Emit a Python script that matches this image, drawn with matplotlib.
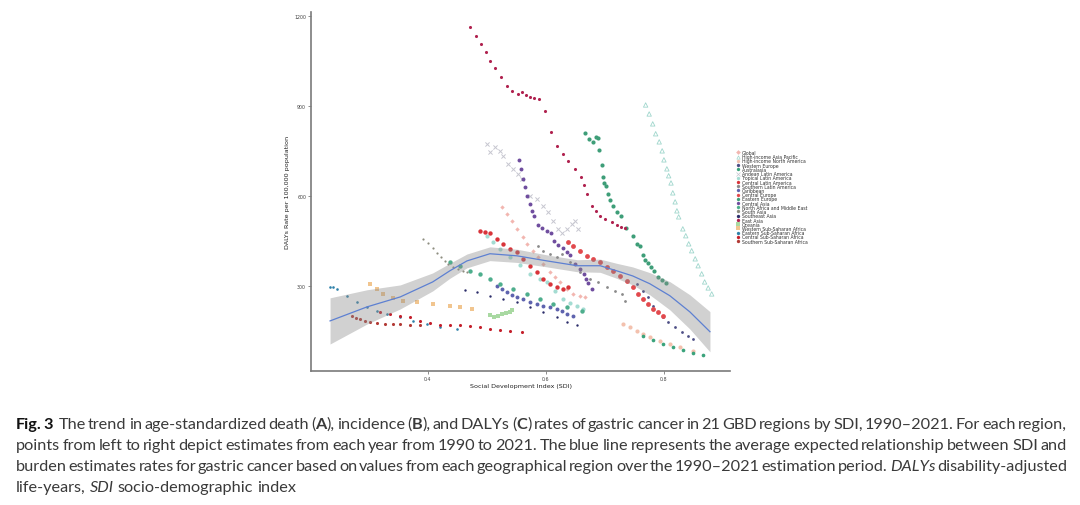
import matplotlib
matplotlib.use("Agg")
import matplotlib.pyplot as plt
from matplotlib.lines import Line2D

# ---------------- data (SDI, DALYs rate per 100,000) ----------------
east_asia_x = [0.471,0.481,0.490,0.498,0.505,0.514,0.524,0.534,0.542,0.553,0.559,0.566,0.573,0.580,0.588,0.598,
               0.608,0.619,0.629,0.637,0.649,0.659,0.664,0.669,0.678,0.685,0.692,0.700,0.712,0.720,0.727,0.734]
east_asia_y = [1163,1133,1107,1080,1050,1027,997,967,950,940,947,937,930,927,923,883,
               813,767,740,717,690,663,637,607,567,550,533,523,513,503,497,493]

hi_asia_pacific_x = [0.769,0.775,0.781,0.786,0.792,0.797,0.800,0.805,0.808,0.812,0.815,0.819,0.822,0.825,0.832,0.837,
                     0.842,0.847,0.853,0.858,0.864,0.869,0.875,0.881]
hi_asia_pacific_y = [903,873,840,807,780,750,720,690,667,643,610,580,550,530,490,467,440,417,390,367,340,313,293,273]

eastern_europe_x = [0.666,0.673,0.680,0.685,0.688,0.690,0.695,0.697,0.698,0.702,0.705,0.708,0.714,0.720,0.727,0.736,
                    0.747,0.754,0.759,0.764,0.768,0.773,0.778,0.783,0.790,0.797,0.803]
eastern_europe_y = [810,790,780,797,793,753,703,663,643,633,607,587,567,547,533,493,467,440,433,403,387,377,363,350,330,320,310]

central_asia_x = [0.554,0.558,0.561,0.564,0.568,0.573,0.576,0.580,0.586,0.593,0.602,0.608,0.614,0.620,0.629,0.636,
                  0.641,0.649,0.658,0.664,0.668,0.671,0.678]
central_asia_y = [720,690,657,630,600,573,550,533,503,493,483,477,450,437,427,413,403,373,357,340,323,310,290]

andean_x = [0.500,0.505,0.514,0.522,0.527,0.536,0.544,0.553,0.559,0.573,0.585,0.595,0.603,0.612,0.620,0.627,0.636,0.644,0.649,0.654]
andean_y = [773,747,763,750,733,707,690,673,657,600,590,567,547,517,490,477,490,507,517,490]

global_x = [0.525,0.534,0.542,0.551,0.561,0.568,0.578,0.586,0.595,0.607,0.615,0.624,0.636,0.646,0.658,0.666]
global_y = [563,540,517,490,463,440,417,397,373,347,330,313,290,273,267,263]

central_latam_x = [0.488,0.497,0.505,0.517,0.527,0.539,0.551,0.561,0.573,0.585,0.595,0.607,0.619,0.629,0.637]
central_latam_y = [483,480,477,457,440,423,413,390,367,347,323,307,297,290,297]

central_europe_x = [0.637,0.646,0.658,0.669,0.680,0.692,0.703,0.714,0.725,0.737,0.747,0.756,0.764,0.773,0.781,0.790,0.798]
central_europe_y = [447,433,417,400,390,380,363,350,333,317,297,273,257,240,223,213,200]

western_europe_x = [0.754,0.764,0.773,0.781,0.790,0.798,0.807,0.819,0.831,0.841,0.849]
western_europe_y = [307,283,263,233,213,197,180,163,147,133,123]

southern_latam_x = [0.586,0.595,0.607,0.619,0.627,0.641,0.658,0.675,0.688,0.703,0.717,0.729,0.734]
southern_latam_y = [433,417,407,397,407,380,347,323,313,297,283,273,250]

tropical_latam_x = [0.500,0.510,0.522,0.539,0.556,0.573,0.590,0.602,0.615,0.629,0.641,0.653,0.663]
tropical_latam_y = [467,447,423,397,370,340,323,313,283,257,243,233,223]

name_x = [0.437,0.454,0.471,0.488,0.505,0.522,0.544,0.568,0.590,0.612,0.636,0.661]
name_y = [380,367,350,340,323,307,290,273,257,240,230,217]

caribbean_x = [0.517,0.525,0.534,0.542,0.551,0.561,0.573,0.585,0.595,0.607,0.619,0.627,0.636,0.646]
caribbean_y = [300,290,280,270,263,257,247,240,233,230,223,217,207,200]

se_asia_x = [0.463,0.483,0.505,0.527,0.551,0.573,0.595,0.619,0.636,0.653]
se_asia_y = [287,280,267,257,247,230,213,197,180,170]

oceania_x = [0.505,0.512,0.519,0.525,0.532,0.539,0.542]
oceania_y = [203,197,200,207,210,213,220]

south_asia_x = [0.392,0.400,0.408,0.415,0.422,0.429,0.434,0.442,0.451,0.459,0.466]
south_asia_y = [457,443,427,410,397,383,373,363,357,350,347]

w_ssa_x = [0.302,0.314,0.324,0.341,0.358,0.381,0.408,0.437,0.454,0.475]
w_ssa_y = [307,290,273,260,250,247,240,233,230,223]

e_ssa_x = [0.234,0.239,0.246,0.263,0.280,0.297,0.314,0.331,0.353,0.375,0.398,0.420,0.449]
e_ssa_y = [297,297,290,267,247,230,217,207,197,183,173,163,157]

c_ssa_x = [0.319,0.336,0.353,0.369,0.386,0.403,0.420,0.437,0.454,0.471,0.488,0.505,0.522,0.539,0.559]
c_ssa_y = [213,207,200,197,183,177,170,170,170,167,163,157,153,150,147]

s_ssa_x = [0.271,0.278,0.285,0.293,0.302,0.314,0.327,0.341,0.353,0.369,0.386]
s_ssa_y = [200,193,190,183,180,177,173,173,173,170,170]

hi_na_x = [0.731,0.742,0.754,0.764,0.776,0.793,0.810,0.827,0.849]
hi_na_y = [173,163,150,140,130,117,107,97,83]

australasia_x = [0.764,0.781,0.798,0.815,0.832,0.849,0.866]
australasia_y = [133,120,107,97,87,77,70]

# smoother (expected relationship) and its confidence band
fit_x  = [0.234,0.297,0.353,0.408,0.437,0.466,0.505,0.551,0.602,0.653,0.692,0.720,0.747,0.776,0.810,0.844,0.878]
fit_y  = [183,230,263,313,350,383,407,400,383,367,367,350,333,307,267,213,147]
fit_lo = [106,173,223,283,325,360,384,378,363,347,345,325,303,270,220,156,80]
fit_hi = [260,287,303,343,375,406,430,422,403,387,389,375,363,344,314,270,214]

x_ticks = [0.4, 0.6, 0.8]
y_ticks = [300, 600, 900, 1200]

regions = ["Global", "High-income Asia Pacific", "High-income North America", "Western Europe", "Australasia",
           "Andean Latin America", "Tropical Latin America", "Central Latin America", "Southern Latin America",
           "Caribbean", "Central Europe", "Eastern Europe", "Central Asia", "North Africa and Middle East",
           "South Asia", "Southeast Asia", "East Asia", "Oceania", "Western Sub-Saharan Africa",
           "Eastern Sub-Saharan Africa", "Central Sub-Saharan Africa", "Southern Sub-Saharan Africa"]

series = {
    "Global": (global_x, global_y),
    "High-income Asia Pacific": (hi_asia_pacific_x, hi_asia_pacific_y),
    "High-income North America": (hi_na_x, hi_na_y),
    "Western Europe": (western_europe_x, western_europe_y),
    "Australasia": (australasia_x, australasia_y),
    "Andean Latin America": (andean_x, andean_y),
    "Tropical Latin America": (tropical_latam_x, tropical_latam_y),
    "Central Latin America": (central_latam_x, central_latam_y),
    "Southern Latin America": (southern_latam_x, southern_latam_y),
    "Caribbean": (caribbean_x, caribbean_y),
    "Central Europe": (central_europe_x, central_europe_y),
    "Eastern Europe": (eastern_europe_x, eastern_europe_y),
    "Central Asia": (central_asia_x, central_asia_y),
    "North Africa and Middle East": (name_x, name_y),
    "South Asia": (south_asia_x, south_asia_y),
    "Southeast Asia": (se_asia_x, se_asia_y),
    "East Asia": (east_asia_x, east_asia_y),
    "Oceania": (oceania_x, oceania_y),
    "Western Sub-Saharan Africa": (w_ssa_x, w_ssa_y),
    "Eastern Sub-Saharan Africa": (e_ssa_x, e_ssa_y),
    "Central Sub-Saharan Africa": (c_ssa_x, c_ssa_y),
    "Southern Sub-Saharan Africa": (s_ssa_x, s_ssa_y),
}

# styles: (color, marker, size, hollow)
styles = {
    "Global": ("#F2B6B0", "D", 5, False),
    "High-income Asia Pacific": ("#9FD6CC", "^", 10, True),
    "High-income North America": ("#F3C1AE", "o", 9, False),
    "Western Europe": ("#4E4F86", "o", 4, False),
    "Australasia": ("#3AA37B", "o", 7, False),
    "Andean Latin America": ("#C6C6D0", "x", 9, False),
    "Tropical Latin America": ("#A4DCD2", "o", 9, False),
    "Central Latin America": ("#D8343A", "o", 10, False),
    "Southern Latin America": ("#8A8A8A", "o", 4, False),
    "Caribbean": ("#5E63AE", "o", 8, False),
    "Central Europe": ("#E2494D", "o", 12, False),
    "Eastern Europe": ("#3E9E78", "o", 9, False),
    "Central Asia": ("#6F4D9E", "o", 8, False),
    "North Africa and Middle East": ("#4EAE8D", "o", 10, False),
    "South Asia": ("#8E8E80", "o", 2.5, False),
    "Southeast Asia": ("#2B2D6A", "o", 3, False),
    "East Asia": ("#B0224F", "o", 5, False),
    "Oceania": ("#A9D9A2", "s", 6, False),
    "Western Sub-Saharan Africa": ("#F1C58F", "s", 8, False),
    "Eastern Sub-Saharan Africa": ("#2F81A9", "o", 3.5, False),
    "Central Sub-Saharan Africa": ("#C4202C", "o", 5, False),
    "Southern Sub-Saharan Africa": ("#B23A35", "o", 5, False),
}

# ---------------- figure ----------------
W, H = 1080, 506
fig = plt.figure(figsize=(W / 100, H / 100), dpi=100)
fig.patch.set_facecolor("white")

ax = fig.add_axes([311 / W, 1 - 372 / H, (730 - 311) / W, (372 - 13) / H])
ax.set_xlim(0.2017, 0.912)
ax.set_ylim(16, 1213)

handles = []
for name in regions:
    xs, ys = series[name]
    col, mk, sz, hollow = styles[name]
    if hollow:
        ax.scatter(xs, ys, s=sz, marker=mk, facecolors="none", edgecolors=col, linewidths=0.6, zorder=2)
        h = Line2D([], [], linestyle="none", marker=mk, markersize=2.4, markerfacecolor="none",
                   markeredgecolor=col, markeredgewidth=0.5)
    elif mk == "x":
        ax.scatter(xs, ys, s=sz, marker=mk, color=col, linewidths=0.7, zorder=2)
        h = Line2D([], [], linestyle="none", marker=mk, markersize=2.2, color=col, markeredgewidth=0.5)
    else:
        ax.scatter(xs, ys, s=sz, marker=mk, color=col, linewidths=0, zorder=2)
        h = Line2D([], [], linestyle="none", marker=mk, markersize=2.4, markerfacecolor=col,
                   markeredgecolor=col, markeredgewidth=0)
    handles.append(h)

ax.fill_between(fit_x, fit_lo, fit_hi, color="#8C8C8C", alpha=0.4, linewidth=0, zorder=3)
ax.plot(fit_x, fit_y, color="#5D80D2", linewidth=0.9, zorder=4)

for side in ["top", "right"]:
    ax.spines[side].set_visible(False)
for side in ["left", "bottom"]:
    ax.spines[side].set_color("#7A7A7A")
    ax.spines[side].set_linewidth(1.2)
ax.set_xticks(x_ticks)
ax.set_yticks(y_ticks)
ax.set_xticklabels([f"{t:.1f}" for t in x_ticks])
ax.set_yticklabels([str(t) for t in y_ticks])
ax.tick_params(axis="both", length=2, width=0.6, color="#7A7A7A", labelsize=3.4, labelcolor="#444444", pad=1.5)
ax.set_xlabel("Social Development Index (SDI)", fontsize=4.6, color="#222222", labelpad=1.5)
ax.set_ylabel("DALYs Rate per 100,000 population", fontsize=4.6, color="#222222", labelpad=3)

fig.legend(handles, regions, loc="upper left", bbox_to_anchor=(736 / W, 1 - 151 / H),
           frameon=False, fontsize=3.3, labelspacing=-0.17, handlelength=0.7, handletextpad=0.5,
           borderpad=0, borderaxespad=0, labelcolor="#333333")

# ---------------- caption (justified) ----------------
FAM = ["Lato", "DejaVu Sans"]
FS = 11.7

def words(s, weight="normal", style="normal"):
    return [[(w, weight, style)] for w in s.split()]

line1 = [[("Fig.", "bold", "normal")], [("3", "bold", "normal")]] + \
    words("The trend in age-standardized death") + \
    [[("(", "normal", "normal"), ("A", "bold", "normal"), ("),", "normal", "normal")]] + \
    words("incidence") + \
    [[("(", "normal", "normal"), ("B", "bold", "normal"), ("),", "normal", "normal")]] + \
    words("and DALYs") + \
    [[("(", "normal", "normal"), ("C", "bold", "normal"), (")", "normal", "normal")]] + \
    words("rates of gastric cancer in 21 GBD regions by SDI, 1990–2021. For each region,")
line2 = words("points from left to right depict estimates from each year from 1990 to 2021. The blue line represents the average expected relationship between SDI and")
line3 = words("burden estimates rates for gastric cancer based on values from each geographical region over the 1990–2021 estimation period.") + \
    [[("DALYs", "normal", "italic")]] + words("disability-adjusted")
line4 = words("life-years,") + [[("SDI", "normal", "italic")]] + words("socio-demographic index")

fig.canvas.draw()
renderer = fig.canvas.get_renderer()

def seg_w(s, weight, style):
    t = fig.text(0, 0, s, fontsize=FS, family=FAM, fontweight=weight, fontstyle=style)
    w = t.get_window_extent(renderer).width
    t.remove()
    return w

space_w = FS * 100 / 72 * 0.24
X0, X1 = 16, 1067
baselines = [429, 450, 471, 492]
for li, (line, base) in enumerate(zip([line1, line2, line3, line4], baselines)):
    widths = [sum(seg_w(s, wt, st) for s, wt, st in wd) for wd in line]
    extra = space_w * 0.8 if li == 0 else 0
    if li < 3:
        gap = (X1 - X0 - sum(widths) - extra) / (len(line) - 1)
    else:
        gap = space_w
    x = X0
    for wi, wd in enumerate(line):
        xx = x
        for s, wt, st in wd:
            col = "#111111" if wt == "bold" and s.startswith(("Fig", "3")) else "#3A3A3A"
            fig.text(xx / W, 1 - base / H, s, fontsize=FS, family=FAM, fontweight=wt, fontstyle=st,
                     color=col, ha="left", va="baseline")
            xx += seg_w(s, wt, st)
        x += widths[wi] + gap
        if li == 0 and wi == 1:
            x += extra

fig.savefig("out.png", dpi=100, facecolor="white")
